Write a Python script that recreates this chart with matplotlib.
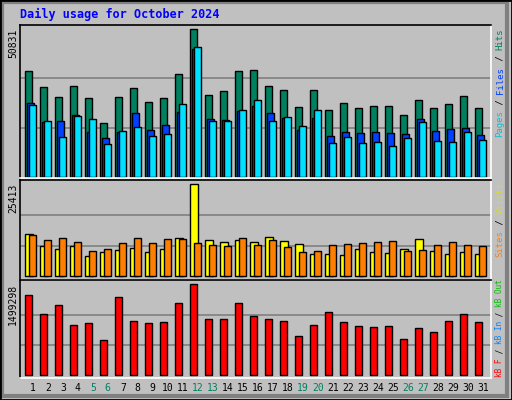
import matplotlib
matplotlib.use("Agg")
import matplotlib.pyplot as plt
from matplotlib.patches import Rectangle

days = list(range(1, 32))
weekend = [5, 6, 12, 13, 19, 20, 26, 27]
hits = [36340,30820,27370,31165,27025,18400,27370,30475,25645,27025,35305,50831,28060,29440,36340,36685,
        31165,29785,23920,29785,22885,25300,23575,24265,24265,21160,26335,23575,24955,27715,23575]
files = [25300,18745,19090,21160,15295,13225,15295,21850,15985,17710,22195,43930,19780,19435,22540,24265,
         21850,20125,15985,20125,13915,15295,14950,15295,14950,14605,19780,15640,16330,16675,14260]
pages = [24610,19090,13570,20815,19780,11155,15640,17020,13915,14605,24955,44620,19090,19090,22885,26335,
         19090,20470,17365,22885,11500,13570,11500,11845,10465,13225,18745,12190,11845,15295,12535]
visits = [11602,8379,7551,8379,5617,6722,7274,7827,6722,7551,10589,25413,10037,9484,10037,9484,
          10865,9760,8932,6169,6169,5893,7551,6722,6446,7551,10313,6998,6169,6722,6169]
sites = [11326,10037,10589,9484,6998,7551,9208,10589,9208,10313,10313,9208,8656,8379,10589,8656,
         10037,8103,6722,6998,8656,8932,9208,9484,9760,6998,7274,8656,9484,8656,8379]
kbytes = [1318080,1005036,1153320,823800,856752,576660,1285128,889704,856752,873228,1186272,1499298,
          922656,922656,1186272,972084,922656,889704,642564,823800,1037988,873228,807324,790848,807324,
          593136,774372,708468,889704,1005036,873228]

W, H = 512, 400
BG = "#C0C0C0"
fig = plt.figure(figsize=(W/100, H/100), dpi=100, facecolor=BG)
MONO = "DejaVu Sans Mono"

def fx(x): return x / W
def fy(y): return 1 - y / H

fig.patches.append(Rectangle((fx(2), fy(396)), fx(505), 394/H, transform=fig.transFigure,
                             facecolor="none", edgecolor="#808080", lw=3))
fig.patches.append(Rectangle((0, 0), 1, 1, transform=fig.transFigure,
                             facecolor="none", edgecolor="black", lw=2))

def mkax(y0, y1, base, topy, vmax):
    ax = fig.add_axes([fx(20.3), fy(y1), fx(490.7 - 20.3), (y1 - y0) / H])
    ax.set_facecolor(BG)
    k = vmax / (base - topy)
    ax.set_ylim(-(y1 - base) * k, (base - y0) * k)
    ax.set_xlim(20.3, 490.7)
    ax.set_xticks([]); ax.set_yticks([])
    for s in ["left", "top"]:
        ax.spines[s].set_color("black")
    for s in ["right", "bottom"]:
        ax.spines[s].set_color("white")
    for sp in ax.spines.values():
        sp.set_linewidth(1.2)
    for g in (vmax / 3, 2 * vmax / 3):
        ax.axhline(g, color="#808080", lw=1.2, zorder=0)
    return ax

def bars(ax, off, width, vals, color):
    xs = [25.3 + 15 * (d - 1) + off for d in days]
    ax.bar(xs, vals, width=width, align="edge", color=color, edgecolor="black", lw=1.0, zorder=2)

ax1 = mkax(25, 178, 176.7, 29.3, max(hits))
bars(ax1, 0, 7, hits, "#00805F")
bars(ax1, 1.7, 7, files, "#0040FF")
bars(ax1, 3.7, 7.3, pages, "#00E0FF")

ax2 = mkax(180, 279.7, 276.3, 184.3, max(visits))
bars(ax2, 0, 8, visits, "#FFFF00")
bars(ax2, 3.7, 7.3, sites, "#FF8000")

ax3 = mkax(280.3, 377.7, 375.3, 284.3, max(kbytes))
bars(ax3, 0, 7, kbytes, "#FF0000")

fig.text(fx(20), fy(14), "Daily usage for October 2024", color="#0000FF", fontsize=8.5,
         fontweight="bold", family=MONO, va="center", ha="left")

for ytop, lab in [(29, str(max(hits))), (184, str(max(visits))), (284, str(max(kbytes)))]:
    fig.text(fx(13), fy(ytop), lab, rotation=90, fontsize=7, family=MONO, va="top", ha="center")

for d in days:
    x = 25.3 + 15 * (d - 1) + 7.5
    fig.text(fx(x), fy(388), str(d), fontsize=7, family=MONO, ha="center", va="center",
             color="#00805F" if d in weekend else "black")

def vlabel(ybottom, pieces, fs):
    cw = 0.602 * fs * 100 / 72
    y = ybottom
    for txt, col in pieces:
        fig.text(fx(500), fy(y), txt, rotation=90, fontsize=fs, family=MONO, color=col,
                 ha="center", va="bottom", rotation_mode="anchor" if False else "default")
        y -= cw * len(txt)

vlabel(137, [("Pages", "#00C0E0"), (" / ", "black"), ("Files", "#0040FF"), (" / ", "black"), ("Hits", "#00805F")], 6.5)
vlabel(257, [("Sites", "#FF8000"), (" / ", "black"), ("Visits", "#E0E000")], 6.5)
vlabel(377, [("kB F", "#FF0000"), (" / ", "black"), ("kB In", "#0080FF"), (" / ", "black"), ("kB Out", "#00C000")], 5.6)

fig.savefig("out.png", dpi=100, facecolor=BG)
